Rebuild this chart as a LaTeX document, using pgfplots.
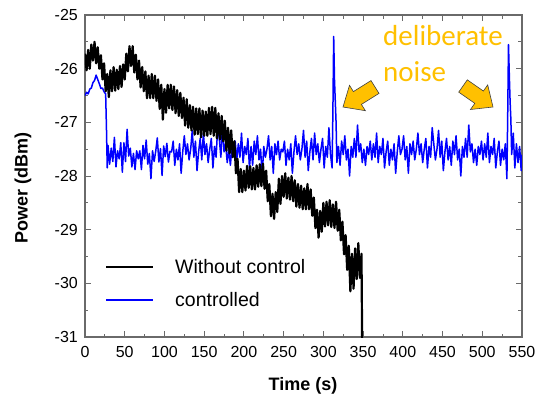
\documentclass[border=0pt]{standalone}
\usepackage{fontspec}
\setmainfont{Liberation Sans}
\newfontfamily\calibri{Carlito}
\usepackage{pgfplots}
\pgfplotsset{compat=1.18}
\definecolor{noiseorange}{HTML}{FFC000}
\definecolor{framegray}{HTML}{6A6A6A}
\definecolor{ctrlblue}{HTML}{0000FF}
\begin{document}
\begin{tikzpicture}
\path[use as bounding box] (-85pt,-60pt) rectangle (457pt,337pt);
\begin{axis}[
  at={(0pt,0pt)}, anchor=south west,
  scale only axis, width=437pt, height=322pt,
  xmin=0, xmax=550, ymin=-31, ymax=-25,
  xtick={0,50,100,150,200,250,300,350,400,450,500,550},
  xticklabels={0,50,100,150,200,250,300,350,400,450,500,550},
  ytick={-31,-30,-29,-28,-27,-26,-25},
  yticklabels={-31,-30,-29,-28,-27,-26,-25},
  minor x tick num=1, minor y tick num=1,
  tick align=inside,
  major tick length=6pt, minor tick length=3.5pt,
  every tick/.style={framegray, line width=0.9pt},
  axis line style={framegray, line width=1.3pt},
  tick label style={font=\fontsize{16}{18}\selectfont, inner sep=0pt},
  xticklabel shift=9pt, yticklabel shift=7pt,
  xlabel={\bfseries Time (s)},
  ylabel={\bfseries Power (dBm)},
  label style={font=\fontsize{18}{20}\selectfont},
  xlabel style={at={(axis description cs:0.499,-0.152)}, anchor=center},
  ylabel style={at={(axis description cs:-0.142,0.463)}, anchor=center},
  legend style={at={(axis description cs:0.0458,0.2432)}, anchor=north west,
    draw=none, fill=none, inner sep=0pt, row sep=18pt,
    nodes={inner sep=0pt},
    font=\fontsize{19.5}{22}\selectfont},
  legend cell align=left,
  legend image code/.code={\draw[#1, line width=1.8pt] (0pt,0pt) -- (47pt,0pt); \path (68pt,0pt);},
]
\addplot[ctrlblue, line width=1.5pt, line join=round, forget plot] coordinates {
(0,-26.5) (2,-26.44) (4,-26.47) (6,-26.38) (8,-26.36) (10,-26.26) (12,-26.22) (14,-26.12)
(16,-26.2) (18,-26.28) (20,-26.37) (22,-26.36) (24,-26.43) (26,-26.47) (27,-27.1) (28,-27.85)
(29,-27.43) (31,-27.78) (33,-27.48) (35,-27.73) (37,-27.28) (39,-27.83) (41,-27.53) (43,-27.68) (45,-27.38) (47,-27.93)
(49,-27.38) (51,-27.73) (53,-27.13) (55,-27.63) (57,-27.48) (59,-27.83) (61,-27.58) (63,-27.88) (65,-27.53) (67,-27.68)
(69,-27.53) (71,-27.88) (73,-27.43) (75,-27.68) (77,-27.33) (79,-27.78) (81,-27.58) (83,-28.05) (85,-27.53) (87,-27.73)
(89,-27.54) (91,-27.29) (93,-27.74) (95,-27.49) (97,-27.99) (99,-27.44) (101,-27.64) (103,-27.39) (105,-27.74) (107,-27.54)
(109,-27.55) (111,-27.35) (113,-27.8) (115,-27.5) (117,-27.7) (119,-27.4) (121,-27.95) (123,-27.55) (125,-27.25) (127,-27.6)
(129,-27.4) (131,-27.7) (133,-27.5) (135,-27.15) (137,-27.65) (139,-27.35) (141,-27.9) (143,-27.55) (145,-27.3) (147,-27.7)
(149,-27.2) (151,-27.6) (153,-27.4) (155,-27.75) (157,-27.5) (159,-27.3) (161,-27.85) (163,-27.45) (165,-27.65) (167,-27.1)
(169,-27.3) (171,-27.65) (173,-27.05) (175,-27.55) (177,-27.4) (179,-27.75) (181,-27.5) (183,-27.8) (185,-27.45) (187,-27.6)
(189,-27.35) (191,-27.7) (193,-27.4) (195,-27.65) (197,-27.2) (199,-27.75) (201,-27.45) (203,-27.6) (205,-27.3) (207,-27.85)
(209,-27.45) (211,-27.8) (213,-27.35) (215,-27.6) (217,-27.25) (219,-27.7) (221,-27.5) (223,-28.0) (225,-27.45) (227,-27.65)
(229,-27.5) (231,-27.25) (233,-27.7) (235,-27.45) (237,-27.95) (239,-27.4) (241,-27.6) (243,-27.35) (245,-27.7) (247,-27.5)
(249,-27.55) (251,-27.35) (253,-27.8) (255,-27.5) (257,-27.7) (259,-27.4) (261,-27.95) (263,-27.55) (265,-27.25) (267,-27.6)
(269,-27.4) (271,-27.7) (273,-27.5) (275,-27.15) (277,-27.65) (279,-27.35) (281,-27.9) (283,-27.55) (285,-27.3) (287,-27.7)
(289,-27.2) (291,-27.6) (293,-27.4) (295,-27.75) (297,-27.5) (299,-27.3) (301,-27.85) (303,-27.45) (305,-27.65) (307,-27.1)
(309,-27.6) (311,-27.85) (312,-26.8) (313,-25.4) (314,-26.2) (315,-26.6) (316,-27.0) (317,-27.75)
(319,-27.45) (321,-27.8) (323,-27.35) (325,-27.6) (327,-27.25) (329,-27.7) (331,-27.5) (333,-28.0) (335,-27.45) (337,-27.65)
(339,-27.3) (341,-27.65) (343,-27.05) (345,-27.55) (347,-27.4) (349,-27.75) (351,-27.5) (353,-27.8) (355,-27.45) (357,-27.6)
(359,-27.35) (361,-27.7) (363,-27.4) (365,-27.65) (367,-27.2) (369,-27.75) (371,-27.45) (373,-27.6) (375,-27.3) (377,-27.85)
(379,-27.55) (381,-27.35) (383,-27.8) (385,-27.5) (387,-27.7) (389,-27.4) (391,-27.95) (393,-27.55) (395,-27.25) (397,-27.6)
(399,-27.5) (401,-27.25) (403,-27.7) (405,-27.45) (407,-27.95) (409,-27.4) (411,-27.6) (413,-27.35) (415,-27.7) (417,-27.5)
(419,-27.2) (421,-27.6) (423,-27.4) (425,-27.75) (427,-27.5) (429,-27.3) (431,-27.85) (433,-27.45) (435,-27.65) (437,-27.1)
(439,-27.4) (441,-27.7) (443,-27.5) (445,-27.15) (447,-27.65) (449,-27.35) (451,-27.9) (453,-27.55) (455,-27.3) (457,-27.7)
(459,-27.45) (461,-27.8) (463,-27.35) (465,-27.6) (467,-27.25) (469,-27.7) (471,-27.5) (473,-28.0) (475,-27.45) (477,-27.65)
(479,-27.3) (481,-27.65) (483,-27.05) (485,-27.55) (487,-27.4) (489,-27.75) (491,-27.5) (493,-27.8) (495,-27.45) (497,-27.6)
(499,-27.35) (501,-27.7) (503,-27.4) (505,-27.65) (507,-27.2) (509,-27.75) (511,-27.45) (513,-27.6) (515,-27.3) (517,-27.85)
(519,-27.55) (521,-27.35) (523,-27.8) (525,-27.5) (527,-27.7) (529,-27.4)
(531,-28.05) (532,-26.9) (533,-25.55) (534,-26.1) (535,-26.6) (536,-26.95) (537,-27.6) (539,-27.2)
(541,-27.85) (543,-27.4) (545,-27.75) (547,-27.45) (549,-27.9) (550,-27.6)
};
\addplot[black, line width=2.2pt, line join=round] coordinates {
(0,-25.72) (2,-26.03) (4,-25.65) (6,-26.0) (8,-25.55) (10,-25.85) (12,-25.5) (14,-25.9)
(16,-25.6) (18,-26.0) (20,-25.75) (22,-26.2) (24,-25.9) (26,-26.42) (28,-26.1) (30,-26.53)
(32,-26.03) (34,-26.42) (36,-25.97) (38,-26.41) (40,-26.02) (42,-26.38) (44,-25.95) (46,-26.34)
(48,-25.92) (50,-26.2) (52,-25.72) (54,-26.05) (56,-25.58) (58,-25.95) (60,-25.58) (62,-26.07)
(64,-25.74) (66,-26.2) (68,-25.85) (70,-26.35) (72,-25.97) (74,-26.42) (76,-26.05) (78,-26.55)
(80,-26.13) (82,-26.55) (84,-26.1) (86,-26.55) (88,-26.13) (90,-26.6) (92,-26.2) (94,-26.75)
(96,-26.3) (98,-26.95) (100,-26.38) (102,-26.82) (104,-26.3) (106,-26.74) (108,-26.3) (110,-26.77)
(112,-26.33) (114,-26.83) (116,-26.4) (118,-26.88) (120,-26.45) (122,-26.92) (124,-26.54) (126,-27.06)
(128,-26.57) (130,-27.1) (132,-26.68) (134,-27.15) (136,-26.71) (138,-27.23) (140,-26.74) (142,-27.22)
(144,-26.74) (146,-27.28) (148,-26.78) (150,-27.25) (152,-26.8) (154,-27.25) (156,-26.73) (158,-27.22)
(160,-26.71) (162,-27.25) (164,-26.73) (166,-27.3) (168,-26.83) (170,-27.32) (172,-26.88) (174,-27.35)
(176,-26.97) (178,-27.53) (180,-27.1) (182,-27.58) (184,-27.15) (186,-27.65) (188,-27.35) (190,-27.95)
(192,-27.68) (194,-28.3) (196,-27.87) (198,-28.3) (200,-27.9) (202,-28.27) (204,-27.81) (206,-28.22)
(208,-27.82) (210,-28.25) (212,-27.85) (214,-28.25) (216,-27.8) (218,-28.2) (220,-27.78) (222,-28.19)
(224,-27.77) (226,-28.24) (228,-27.9) (230,-28.47) (232,-28.15) (234,-28.75) (236,-28.33) (238,-28.8)
(240,-28.3) (242,-28.67) (244,-28.05) (246,-28.52) (248,-28.0) (250,-28.39) (252,-27.95) (254,-28.42)
(256,-28.03) (258,-28.44) (260,-28.0) (262,-28.47) (264,-28.08) (266,-28.57) (268,-28.15) (270,-28.59)
(272,-28.18) (274,-28.62) (276,-28.23) (278,-28.62) (280,-28.15) (282,-28.62) (284,-28.25) (286,-28.74)
(288,-28.4) (290,-28.97) (292,-28.63) (294,-29.15) (296,-28.65) (298,-29.04) (300,-28.5) (302,-28.94)
(304,-28.48) (306,-28.92) (308,-28.45) (310,-28.95) (312,-28.53) (314,-28.97) (316,-28.48) (318,-29.02)
(320,-28.63) (322,-29.2) (324,-28.85) (326,-29.46) (328,-29.1) (330,-29.75) (332,-29.3) (334,-30.15)
(336,-29.45) (338,-30.1) (340,-29.35) (342,-29.92) (344,-29.25) (346,-29.9) (348,-29.45) (349,-31.5)
};
\addlegendentry{Without control}
\addlegendimage{ctrlblue, line width=1.8pt}
\addlegendentry{controlled}
\end{axis}
\filldraw[fill=noiseorange, draw=black!75, line width=0.6pt, line join=miter]
  (294.0pt,243.6pt) -- (276.4pt,232.6pt) -- (280.4pt,226.3pt) -- (258pt,230pt)
  -- (264.5pt,251.7pt) -- (268.4pt,245.4pt) -- (286.0pt,256.4pt) -- cycle;
\filldraw[fill=noiseorange, draw=black!75, line width=0.6pt, line join=miter]
  (373.7pt,244.85pt) -- (389.8pt,233.65pt) -- (385.5pt,227.5pt) -- (408pt,230pt)
  -- (402.7pt,252.1pt) -- (398.4pt,245.95pt) -- (382.3pt,257.15pt) -- cycle;
\node[anchor=base west, inner sep=0pt, text=noiseorange, font=\calibri\fontsize{29}{31}\selectfont] at (298pt,291pt) {deliberate};
\node[anchor=base west, inner sep=0pt, text=noiseorange, font=\calibri\fontsize{29}{31}\selectfont] at (298pt,255pt) {noise};
\end{tikzpicture}
\end{document}
